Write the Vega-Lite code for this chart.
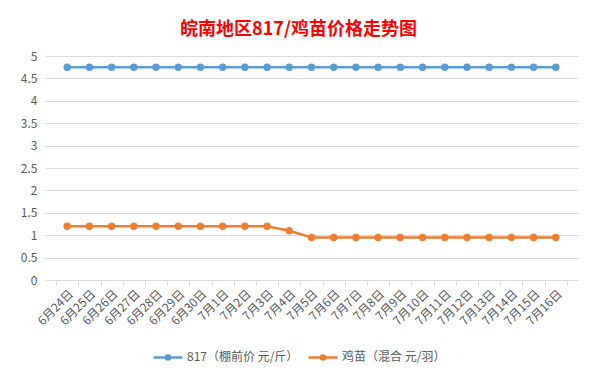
{
  "$schema": "https://vega.github.io/schema/vega-lite/v6.json",
  "width": 533,
  "height": 224,
  "autosize": {"type": "none"},
  "padding": {"left": 45, "top": 56, "right": 18, "bottom": 99},
  "background": "white",
  "title": {
    "text": "皖南地区817/鸡苗价格走势图",
    "color": "#FF0000",
    "font": "Noto Sans CJK SC",
    "fontSize": 18,
    "fontWeight": "bold",
    "anchor": "middle",
    "dx": -13,
    "offset": 11
  },
  "data": {
    "values": [
      {"date": "6月24日", "series": "817（棚前价 元/斤）", "price": 4.75},
      {"date": "6月25日", "series": "817（棚前价 元/斤）", "price": 4.75},
      {"date": "6月26日", "series": "817（棚前价 元/斤）", "price": 4.75},
      {"date": "6月27日", "series": "817（棚前价 元/斤）", "price": 4.75},
      {"date": "6月28日", "series": "817（棚前价 元/斤）", "price": 4.75},
      {"date": "6月29日", "series": "817（棚前价 元/斤）", "price": 4.75},
      {"date": "6月30日", "series": "817（棚前价 元/斤）", "price": 4.75},
      {"date": "7月1日", "series": "817（棚前价 元/斤）", "price": 4.75},
      {"date": "7月2日", "series": "817（棚前价 元/斤）", "price": 4.75},
      {"date": "7月3日", "series": "817（棚前价 元/斤）", "price": 4.75},
      {"date": "7月4日", "series": "817（棚前价 元/斤）", "price": 4.75},
      {"date": "7月5日", "series": "817（棚前价 元/斤）", "price": 4.75},
      {"date": "7月6日", "series": "817（棚前价 元/斤）", "price": 4.75},
      {"date": "7月7日", "series": "817（棚前价 元/斤）", "price": 4.75},
      {"date": "7月8日", "series": "817（棚前价 元/斤）", "price": 4.75},
      {"date": "7月9日", "series": "817（棚前价 元/斤）", "price": 4.75},
      {"date": "7月10日", "series": "817（棚前价 元/斤）", "price": 4.75},
      {"date": "7月11日", "series": "817（棚前价 元/斤）", "price": 4.75},
      {"date": "7月12日", "series": "817（棚前价 元/斤）", "price": 4.75},
      {"date": "7月13日", "series": "817（棚前价 元/斤）", "price": 4.75},
      {"date": "7月14日", "series": "817（棚前价 元/斤）", "price": 4.75},
      {"date": "7月15日", "series": "817（棚前价 元/斤）", "price": 4.75},
      {"date": "7月16日", "series": "817（棚前价 元/斤）", "price": 4.75},
      {"date": "6月24日", "series": "鸡苗（混合 元/羽）", "price": 1.2},
      {"date": "6月25日", "series": "鸡苗（混合 元/羽）", "price": 1.2},
      {"date": "6月26日", "series": "鸡苗（混合 元/羽）", "price": 1.2},
      {"date": "6月27日", "series": "鸡苗（混合 元/羽）", "price": 1.2},
      {"date": "6月28日", "series": "鸡苗（混合 元/羽）", "price": 1.2},
      {"date": "6月29日", "series": "鸡苗（混合 元/羽）", "price": 1.2},
      {"date": "6月30日", "series": "鸡苗（混合 元/羽）", "price": 1.2},
      {"date": "7月1日", "series": "鸡苗（混合 元/羽）", "price": 1.2},
      {"date": "7月2日", "series": "鸡苗（混合 元/羽）", "price": 1.2},
      {"date": "7月3日", "series": "鸡苗（混合 元/羽）", "price": 1.2},
      {"date": "7月4日", "series": "鸡苗（混合 元/羽）", "price": 1.1},
      {"date": "7月5日", "series": "鸡苗（混合 元/羽）", "price": 0.95},
      {"date": "7月6日", "series": "鸡苗（混合 元/羽）", "price": 0.95},
      {"date": "7月7日", "series": "鸡苗（混合 元/羽）", "price": 0.95},
      {"date": "7月8日", "series": "鸡苗（混合 元/羽）", "price": 0.95},
      {"date": "7月9日", "series": "鸡苗（混合 元/羽）", "price": 0.95},
      {"date": "7月10日", "series": "鸡苗（混合 元/羽）", "price": 0.95},
      {"date": "7月11日", "series": "鸡苗（混合 元/羽）", "price": 0.95},
      {"date": "7月12日", "series": "鸡苗（混合 元/羽）", "price": 0.95},
      {"date": "7月13日", "series": "鸡苗（混合 元/羽）", "price": 0.95},
      {"date": "7月14日", "series": "鸡苗（混合 元/羽）", "price": 0.95},
      {"date": "7月15日", "series": "鸡苗（混合 元/羽）", "price": 0.95},
      {"date": "7月16日", "series": "鸡苗（混合 元/羽）", "price": 0.95}
    ]
  },
  "mark": {
    "type": "line",
    "strokeWidth": 2.5,
    "point": {"filled": true, "size": 55, "opacity": 1}
  },
  "encoding": {
    "x": {
      "field": "date",
      "type": "nominal",
      "sort": null,
      "scale": {"paddingInner": 0, "paddingOuter": 0.5},
      "axis": {
        "title": null,
        "labelAngle": -45,
        "labelFont": "Noto Sans CJK SC",
        "labelFontSize": 12,
        "labelColor": "#595959",
        "domainColor": "#d9d9d9",
        "tickColor": "#d9d9d9",
        "tickBand": "extent",
        "tickSize": 5,
        "grid": false,
        "labelPadding": 3
      }
    },
    "y": {
      "field": "price",
      "type": "quantitative",
      "scale": {"domain": [0, 5], "nice": false},
      "axis": {
        "title": null,
        "values": [0, 0.5, 1, 1.5, 2, 2.5, 3, 3.5, 4, 4.5, 5],
        "labelExpr": "toString(datum.value)",
        "labelFont": "Noto Sans CJK SC",
        "labelFontSize": 12,
        "labelColor": "#595959",
        "domain": false,
        "ticks": false,
        "labelPadding": 8,
        "gridColor": "#d9d9d9",
        "gridWidth": 1
      }
    },
    "color": {
      "field": "series",
      "type": "nominal",
      "sort": ["817（棚前价 元/斤）", "鸡苗（混合 元/羽）"],
      "scale": {"range": ["#5B9BD5", "#ED7D31"]},
      "legend": {
        "title": null,
        "orient": "none",
        "legendX": 107,
        "legendY": 285,
        "direction": "horizontal",
        "labelFont": "Noto Sans CJK SC",
        "labelFontSize": 12,
        "labelColor": "#595959",
        "symbolType": "M-1,0L1,0M0.14,0A0.14,0.14 0 1 1 -0.14,0A0.14,0.14 0 1 1 0.14,0",
        "symbolSize": 841,
        "symbolStrokeWidth": 2.5,
        "columnPadding": 4,
        "labelOffset": 3,
        "encode": {
          "symbols": {"update": {"fill": {"scale": "color", "field": "value"}, "opacity": {"value": 1}}}
        }
      }
    }
  },
  "config": {"view": {"stroke": null}}
}
